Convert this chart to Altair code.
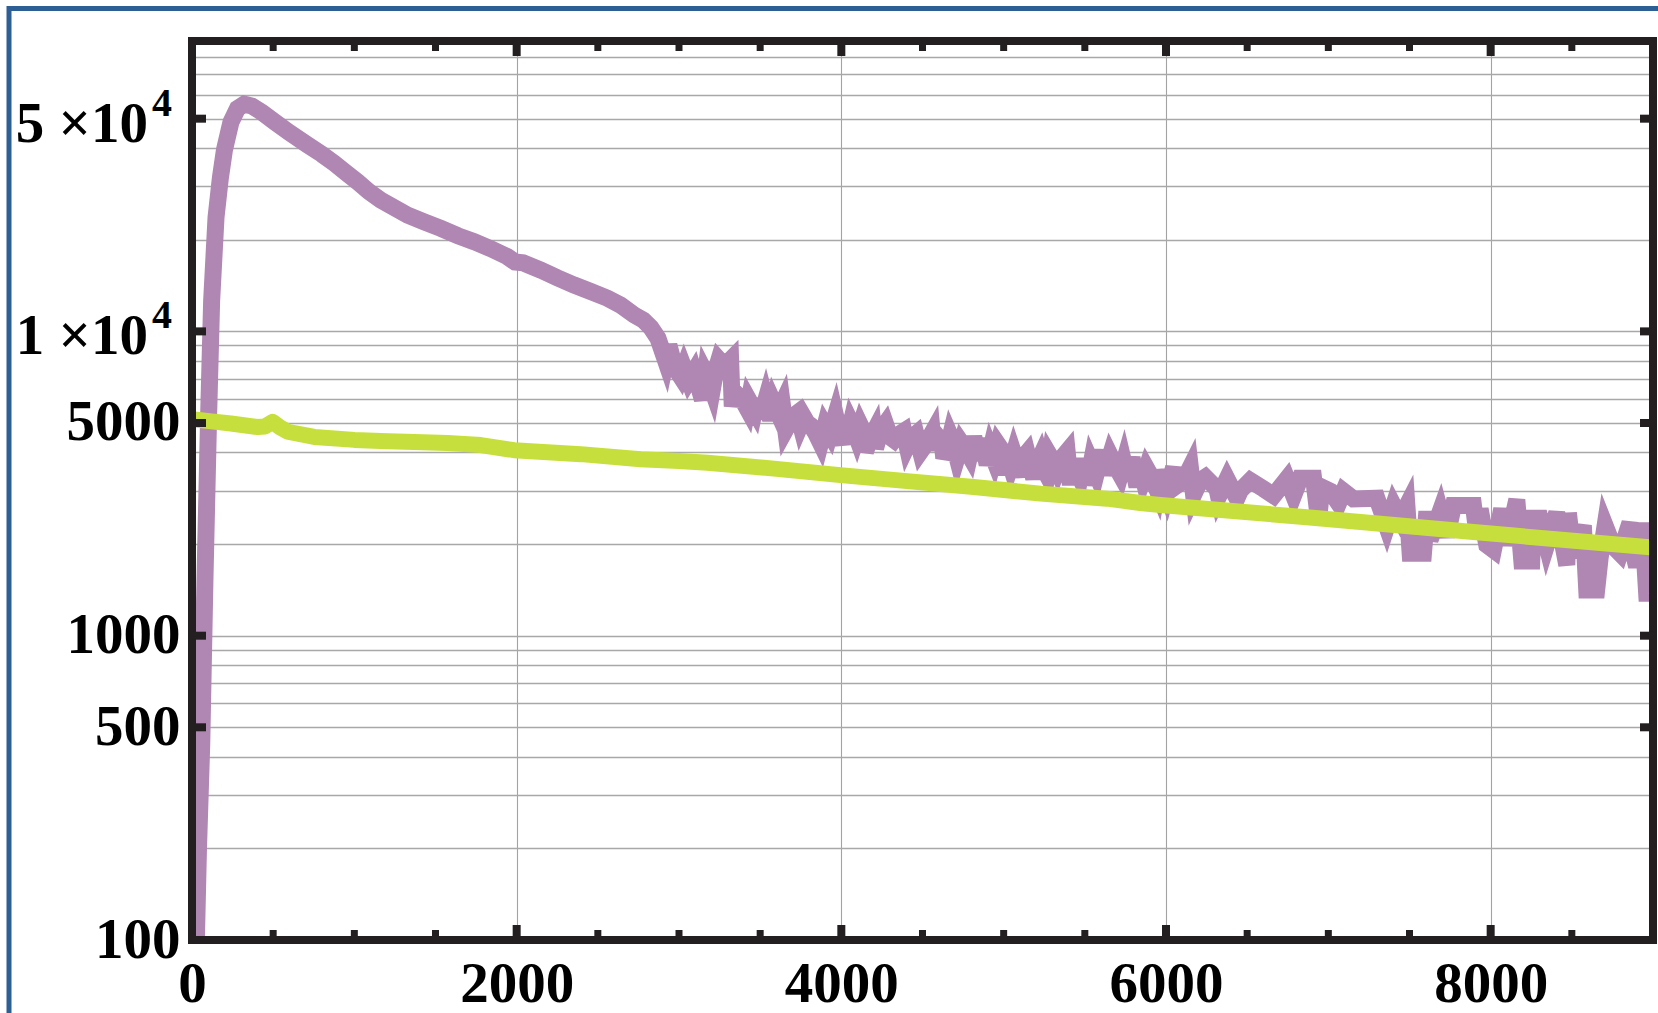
import altair as alt
import pandas as pd

# ---------------- data ----------------
purple_x = [25, 40, 60, 80, 103, 121, 148, 175, 200, 240, 280, 322, 370, 430, 507, 600,
            712, 800, 876, 950, 1020, 1090, 1163, 1240, 1328, 1430, 1533, 1640, 1738, 1840,
            1943, 1990, 2040, 2148, 2250, 2354, 2460, 2559, 2640, 2723, 2780, 2826, 2870,
            2918, 2938, 2975, 3010, 3092, 3144, 3164, 3205, 3246, 3318, 3328, 3369, 3421,
            3431, 3503, 3534, 3564, 3585, 3636, 3657, 3708, 3749, 3769, 3811, 3872, 3964,
            4005, 4016, 4077, 4118, 4149, 4200, 4211, 4272, 4324, 4344, 4426, 4488, 4560,
            4570, 4621, 4631, 4672, 4713, 4765, 4816, 4847, 4867, 4898, 4919, 4990, 5011,
            5042, 5062, 5103, 5144, 5185, 5226, 5267, 5308, 5391, 5411, 5442, 5493, 5514,
            5606, 5626, 5657, 5719, 5791, 5821, 5842, 5945, 5965, 6006, 6047, 6057, 6109,
            6150, 6170, 6211, 6242, 6314, 6324, 6376, 6437, 6458, 6519, 6601, 6663, 6745,
            6786, 6827, 6909, 6940, 6960, 7012, 7063, 7094, 7155, 7299, 7360, 7402, 7443,
            7484, 7504, 7586, 7607, 7627, 7689, 7730, 7771, 7894, 7915, 7935, 7976, 8017,
            8068, 8099, 8161, 8192, 8253, 8263, 8304, 8345, 8407, 8469, 8479, 8510, 8571,
            8592, 8653, 8674, 8705, 8756, 8797, 8858, 8879, 8899, 8930, 8951, 8961, 8990]
purple_y = [90, 200, 440, 1550, 5450, 12600, 23700, 32000, 39500, 48700, 54000, 55800, 55000,
            52500, 48900, 45000, 41000, 38200, 35700, 33200, 31000, 28800, 27000, 25600,
            24100, 22900, 21800, 20600, 19700, 18700, 17600, 16900, 16800, 15900, 15000,
            14200, 13500, 12850, 12200, 11330, 10900, 10300, 9500, 8000, 9000, 7600, 7115,
            7370, 5963, 7260, 6430, 8070, 8070, 5667, 6084, 5568, 5932, 5188, 5932, 5123,
            5783, 5783, 4750, 5293, 4934, 5227, 4909, 4293, 5293, 4239, 5293, 4786, 4909,
            4030, 4667, 4134, 4972, 4403, 4550, 4437, 4030, 4643, 4082, 4326, 3833, 4527,
            3852, 4113, 4493, 3775, 4437, 3644, 4062, 4062, 3378, 3644, 3960, 3336, 3990,
            3294, 3862, 3378, 3718, 4030, 3132, 3535, 3814, 3132, 4062, 3378, 3910, 3378,
            3862, 3093, 3625, 3014, 3488, 2976, 3579, 3091, 3236, 3579, 2902, 3236, 3318,
            3037, 2865, 3276, 2829, 2999, 3236, 3037, 2887, 3276, 2887, 3293, 3293, 2402,
            3076, 2984, 2724, 2984, 2815, 2829, 2283, 2676, 2426, 2676, 1865, 1865, 2558,
            2064, 2558, 2117, 2676, 2676, 2171, 2609, 1987, 1913, 2609, 1987, 2801, 1760,
            1760, 2432, 2432, 1987, 2532, 1707, 2532, 1818, 2301, 1413, 1413, 1796, 2301,
            1962, 1865, 2348, 1865, 1687, 2348, 1687, 1378, 1378]
# finer jitter read inside the noisy band (3000-6000)
purple_x_fine = [3030, 3060, 3120, 3185, 3225, 3280, 3345, 3395, 3465, 3480, 3550, 3610,
                 3680, 3730, 3790, 3840, 3900, 3930, 4040, 4060, 4095, 4135, 4175, 4240,
                 4300, 4385, 4405, 4460, 4525, 4595, 4650, 4690, 4740, 4790, 4830, 4880,
                 4940, 4965, 5025, 5080, 5120, 5165, 5205, 5245, 5285, 5330, 5360, 5425,
                 5470, 5540, 5570, 5590, 5640, 5690, 5740, 5765, 5800, 5860, 5880, 5920]
purple_y_fine = [7600, 6900, 6600, 6900, 7400, 7700, 6300, 5900, 5500, 6000, 5500, 5400,
                 5000, 5400, 5000, 4650, 4900, 4600, 4500, 5000, 4500, 4700, 4400, 4700,
                 4500, 4700, 4200, 4600, 4300, 4500, 4050, 4300, 4300, 3900, 4200, 4100,
                 3800, 4250, 3900, 3700, 3850, 3600, 3650, 3550, 3900, 3500, 3850, 3750,
                 3300, 3700, 3400, 3750, 3650, 3600, 3700, 3250, 3500, 3300, 3550, 3250]

green_x = [0, 120, 240, 404, 450, 497, 540, 589, 753, 1000, 1163, 1574, 1779, 1984, 2395,
           2764, 3000, 3175, 3585, 3995, 4406, 4816, 5227, 5637, 5842, 5965, 6868, 7894, 9000]
green_y = [5150, 5060, 4980, 4850, 4870, 5040, 4850, 4680, 4500, 4400, 4360, 4300, 4230,
           4070, 3950, 3800, 3750, 3700, 3540, 3370, 3220, 3080, 2930, 2820, 2730, 2690,
           2450, 2190, 1950]

x_labels = [0, 2000, 4000, 6000, 8000]
x_minor = [500, 1000, 1500, 2500, 3000, 3500, 4500, 5000, 5500, 6500, 7000, 7500, 8500]
y_labels = [100, 500, 1000, 5000, 10000, 50000]
y_grid = [100, 200, 300, 400, 500, 600, 700, 800, 900,
          1000, 2000, 3000, 4000, 5000, 6000, 7000, 8000, 9000,
          10000, 20000, 30000, 40000, 50000, 60000, 70000, 80000, 90000]
sci_values = [10000, 50000]
sci_mantissa = ["1 \u00d710", "5 \u00d710"]
sci_exponent = ["4", "4"]

# ---------------- layout / style ----------------
W, H = 1461, 899
FRAME = "#231f20"
FONT = "Liberation Serif"

purple = pd.DataFrame({"x": purple_x + purple_x_fine, "y": purple_y + purple_y_fine})
green = pd.DataFrame({"x": green_x, "y": green_y})
xmaj = pd.DataFrame({"x": x_labels})
xmin = pd.DataFrame({"x": x_minor})
ymaj = pd.DataFrame({"y": y_labels})
sci = pd.DataFrame({"y": sci_values, "m": sci_mantissa, "e": sci_exponent})
one = pd.DataFrame({"a": [0]})

xs = alt.Scale(domain=[0, 9000], nice=False, zero=False)
ys = alt.Scale(type="log", domain=[100, 90000], nice=False)

x_axis = alt.Axis(values=x_labels, grid=True, gridColor="#a3a3a3", gridWidth=1.1,
                  ticks=False, tickSize=0, domain=False, labelFont=FONT,
                  labelFontWeight="bold", labelFontSize=57, labelColor="black",
                  labelPadding=16, labelFlush=False, labelOverlap=False, format="d",
                  title="")
label_expr = ("(datum.value == 100 || datum.value == 500 || datum.value == 1000 || "
              "datum.value == 5000) ? format(datum.value, 'd') : ''")
y_axis = alt.Axis(values=y_grid, grid=True, gridColor="#a8a8a8", gridWidth=1.5,
                  ticks=False, tickSize=0, domain=False, labelFont=FONT,
                  labelFontWeight="bold", labelFontSize=57, labelColor="black",
                  labelPadding=12, labelFlush=False, labelOverlap=False,
                  labelExpr=label_expr, title="")

X = alt.X("x:Q", scale=xs, axis=x_axis)
Y = alt.Y("y:Q", scale=ys, axis=y_axis)

l_purple = alt.Chart(purple).mark_line(clip=True, strokeJoin="miter").encode(
    x=X, y=Y, color=alt.value("#b086b3"), strokeWidth=alt.value(17),
)

l_green = alt.Chart(green).mark_line(clip=True, strokeJoin="round").encode(
    x=X, y=Y, color=alt.value("#c7df3c"), strokeWidth=alt.value(16),
)

frame = alt.Chart(one).mark_rect(filled=False, stroke=FRAME, strokeWidth=8).encode(
    x=alt.value(0), x2=alt.value(W), y=alt.value(0), y2=alt.value(H)
)

def xticks(df, y0, y1, w):
    return alt.Chart(df).mark_rule(color=FRAME, strokeWidth=w, strokeCap="butt").encode(
        x=X, y=alt.value(y0), y2=alt.value(y1)
    )

def yticks(df, x0, x1, w):
    return alt.Chart(df).mark_rule(color=FRAME, strokeWidth=w, strokeCap="butt").encode(
        y=Y, x=alt.value(x0), x2=alt.value(x1)
    )

ticks = [
    xticks(xmaj, H, H - 15, 8), xticks(xmin, H, H - 10, 7),
    xticks(xmaj, 0, 15, 8), xticks(xmin, 0, 10, 7),
    yticks(ymaj, 0, 14, 8), yticks(ymaj, W, W - 13, 8),
]

sci_main = alt.Chart(sci).mark_text(
    align="right", baseline="middle", font=FONT, fontWeight="bold", fontSize=57,
    color="black", dy=6
).encode(y=Y, x=alt.value(-44), text="m:N")

sci_sup = alt.Chart(sci).mark_text(
    align="left", baseline="alphabetic", font=FONT, fontWeight="bold", fontSize=40,
    color="black", dy=-3
).encode(y=Y, x=alt.value(-40), text="e:N")

border = alt.Chart(one).mark_rect(filled=False, stroke="#2d5f94", strokeWidth=5).encode(
    x=alt.value(-183), x2=alt.value(W + 300), y=alt.value(-32.5), y2=alt.value(H + 300)
)

chart = alt.layer(l_purple, l_green, frame, *ticks, sci_main, sci_sup, border).properties(
    width=W, height=H,
    autosize=alt.AutoSizeParams(type="none"),
    padding={"left": 192, "top": 41, "right": 5, "bottom": 73},
    background="white",
).configure_view(strokeWidth=0)

chart.save("out.html", embed_options={"renderer": "svg", "actions": False})
